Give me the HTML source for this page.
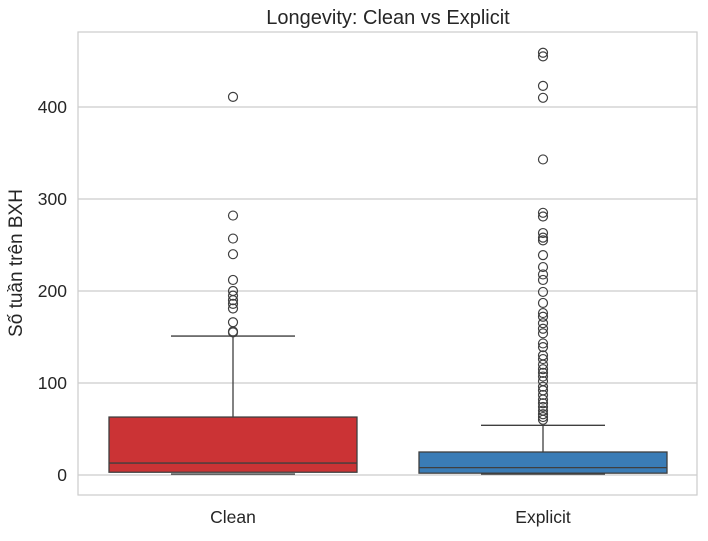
<!DOCTYPE html>
<html><head><meta charset="utf-8"><style>
body{margin:0;background:#fff;font-family:"Liberation Sans","DejaVu Sans",sans-serif}
</style></head><body>
<svg id="c" width="708" height="536" xmlns="http://www.w3.org/2000/svg">
<text x="388" y="24" font-size="20" text-anchor="middle" fill="#262626">Longevity: Clean vs Explicit</text>
<text transform="translate(22,263) rotate(-90)" font-size="19" text-anchor="middle" fill="#262626">Số tuần trên BXH</text>
<g id="grid"></g><g id="marks"></g>
<rect x="78" y="32" width="619" height="463" fill="none" stroke="#cccccc" stroke-width="1.2"/>
</svg>
<script>
const categories=["Clean","Explicit"];
const colors=["#cb3335","#3a7cb6"];
const q1=[3,2];
const medians=[13,8];
const q3=[63,25];
const whiskLo=[1,1];
const whiskHi=[151,54];
const outClean=[411,282,257,240,212,200,195,190,186,181,166,156,155];
const outExplicit=[459,455,423,410,343,285,281,263,258,255,239,226,218,212,199,187,176,172,165,159,154,143,139,130,126,120,115,111,107,102,96,92,87,82,78,74,70,66,63,60];
const outliers=[outClean,outExplicit];
const yTicks=[0,100,200,300,400];
const NS="http://www.w3.org/2000/svg";
const y=v=>475-v*0.92;
const xc=i=>233+i*310;
const hw=124;
function mk(t,a,p){const e=document.createElementNS(NS,t);for(const k in a)e.setAttribute(k,a[k]);p.appendChild(e);return e;}
const g=document.getElementById('grid'),m=document.getElementById('marks');
yTicks.forEach(t=>{
 const l=mk('line',{x1:78,x2:697,y1:y(t),y2:y(t),stroke:'#cccccc','stroke-width':1.2},g);
 
 
 const tx=mk('text',{x:67,y:y(t)+6,'font-size':17.5,'text-anchor':'end',fill:'#262626'},g);
 tx.textContent=t;
 
 
});
categories.forEach((c,i)=>{
 const x=xc(i),s='#3f3f3f';
 const wl=mk('line',{x1:x,x2:x,y1:y(q3[i]),y2:y(whiskHi[i]),stroke:s,'stroke-width':1.3},m);
 
 
 const cap=mk('line',{x1:x-hw/2,x2:x+hw/2,y1:y(whiskHi[i]),y2:y(whiskHi[i]),stroke:s,'stroke-width':1.3},m);
 
 
 const cap2=mk('line',{x1:x-hw/2,x2:x+hw/2,y1:y(whiskLo[i]),y2:y(whiskLo[i]),stroke:s,'stroke-width':1.3},m);
 
 
 const b=mk('rect',{x:x-hw,y:y(q3[i]),width:hw*2,height:y(q1[i])-y(q3[i]),fill:colors[i],stroke:s,'stroke-width':1.3},m);
 
 
 const md=mk('line',{x1:x-hw,x2:x+hw,y1:y(medians[i]),y2:y(medians[i]),stroke:s,'stroke-width':1.3},m);
 
 
 outliers[i].forEach(v=>{
  const o=mk('circle',{cx:x,cy:y(v),r:4.5,fill:'none',stroke:s,'stroke-width':1.2},m);
  
  
 });
 const t=mk('text',{x:x,y:523,'font-size':17.5,'text-anchor':'middle',fill:'#262626'},m);
 t.textContent=c;
 
 
});
</script>
</body></html>
